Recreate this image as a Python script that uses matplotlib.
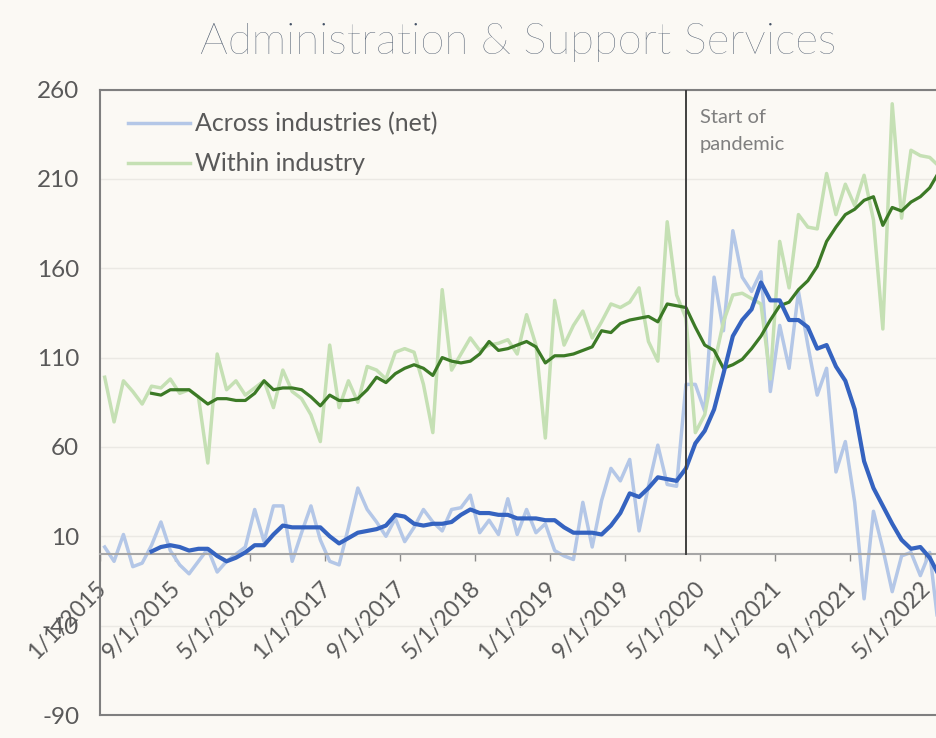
import numpy as np
import pandas as pd
import matplotlib.pyplot as plt
from matplotlib.transforms import ScaledTranslation

# monthly data, Jan 2015 onwards
months = pd.date_range('2015-01-01', periods=90, freq='MS')

across_raw = [4, -4, 11, -7, -5, 5, 18, 2, -6, -11,
              -4, 3, -10, -4, 0, 4, 25, 7, 27, 27,
              -4, 12, 27, 8, -4, -6, 15, 37, 25, 18,
              10, 20, 7, 15, 25, 18, 13, 25, 26, 33,
              12, 19, 11, 31, 11, 25, 12, 17, 2, -1,
              -3, 29, 4, 30, 48, 41, 53, 13, 38, 61,
              39, 38, 95, 95, 80, 155, 125, 181, 155, 147,
              158, 91, 128, 104, 147, 117, 89, 104, 46, 63,
              29, -25, 24, 3, -21, -1, 1, -12, 1, -44]

within_raw = [99, 74, 97, 91, 84, 94, 93, 98, 90, 92,
              88, 51, 112, 92, 97, 89, 93, 97, 82, 103,
              91, 87, 78, 63, 117, 82, 97, 85, 105, 103,
              98, 113, 115, 113, 95, 68, 148, 103, 112, 121,
              114, 117, 118, 120, 112, 134, 117, 65, 142, 117,
              128, 136, 121, 130, 140, 138, 141, 149, 119, 108,
              186, 145, 132, 68, 78, 106, 130, 145, 146, 143,
              140, 98, 175, 149, 190, 183, 182, 213, 190, 207,
              195, 212, 187, 126, 252, 188, 226, 223, 222, 217]

nan = np.nan
across_avg = [nan, nan, nan, nan, nan, 1.5, 4, 5, 4, 2,
              3, 3, -1, -4, -2, 1, 5, 5, 11, 16,
              15, 15, 15, 15, 10, 6, 9, 12, 13, 14,
              16, 22, 21, 17, 16, 17, 17, 18, 22, 25,
              23, 23, 22, 22, 20, 20, 20, 19, 19, 15,
              12, 12, 12, 11, 16, 23, 34, 32, 37, 43,
              42, 41, 48, 62, 69, 81, 101, 122, 131, 137,
              152, 142, 142, 131, 131, 127, 115, 117, 105, 97,
              81, 52, 37, 27, 17, 8, 3, 4, -2, -12]

within_avg = [nan, nan, nan, nan, nan, 90, 89, 92, 92, 92,
              88, 84, 87, 87, 86, 86, 90, 97, 92, 93,
              93, 92, 88, 83, 89, 86, 86, 87, 92, 99,
              96, 101, 104, 106, 104, 100, 110, 108, 107, 108,
              112, 119, 114, 115, 117, 119, 116, 107, 111, 111,
              112, 114, 116, 125, 124, 129, 131, 132, 133, 130,
              140, 139, 138, 127, 117, 114, 104, 106, 109, 115,
              122, 131, 139, 141, 148, 153, 161, 175, 183, 190,
              193, 198, 200, 184, 194, 192, 197, 200, 205, 214]

pandemic = 62  # 3/1/2020

bg = '#fbf9f4'
txt = '#595959'
plt.rcParams['font.family'] = ['Lato', 'DejaVu Sans']
plt.rcParams['axes.unicode_minus'] = False

fig = plt.figure(figsize=(9.36, 7.38), dpi=100, facecolor=bg)
ax = fig.add_axes([100 / 936, 23 / 738, 836 / 936, 625.5 / 738], facecolor=bg)

# spines first: moving a spine resets the ticks
ax.spines['bottom'].set_position(('data', 0))
ax.spines['bottom'].set_color('#a6a6a6')
ax.spines['bottom'].set_linewidth(1.5)
ax.spines['right'].set_visible(False)
for s in ['left', 'top']:
    ax.spines[s].set_color('#7f7f7f')
    ax.spines[s].set_linewidth(1.5)
ax.plot([0, 1], [0, 0], transform=ax.transAxes, color='#7f7f7f', lw=1.5, clip_on=False)

x = np.arange(len(months)) + 0.5
ax.plot(x, across_raw, color='#b4c7e7', lw=2.5, label='Across industries (net)', zorder=2)
ax.plot(x, within_raw, color='#c5e0b4', lw=2.5, label='Within industry', zorder=2)
ax.plot(x, within_avg, color='#3c7a26', lw=2.3, zorder=3)
ax.plot(x, across_avg, color='#3563c0', lw=3.0, zorder=4)

ax.plot([pandemic + 0.5] * 2, [0, 260], color='#404040', lw=1.4, zorder=5)
ax.text(pandemic + 2.0, 249, 'Start of\npandemic', color='#7f7f7f', fontsize=14.5,
        va='top', ha='left', linespacing=1.72)

ax.set_xlim(0, 89.17)
ax.set_ylim(-90, 260)
ax.set_yticks(np.arange(-90, 261, 50))
ax.grid(axis='y', color='#ebe9e4', lw=1)
ax.set_axisbelow(True)

ticks = np.arange(0, len(months), 8)
ax.set_xticks(ticks)
ax.tick_params(axis='x', colors='#8c8c8c', length=5, width=1, pad=12,
               labelcolor=txt, labelsize=16.5)
ax.tick_params(axis='y', length=0, pad=15, labelcolor=txt, labelsize=17.5)
ax.set_xticklabels([f'{d.month}/{d.day}/{d.year}' for d in months[ticks]],
                   rotation=45, ha='right', va='top')
shift = ScaledTranslation(0.1, 0, fig.dpi_scale_trans)
for lab in ax.get_xticklabels():
    lab.set_transform(lab.get_transform() + shift)

ax.legend(loc='upper left', bbox_to_anchor=(0.006, 1.0), frameon=False, fontsize=18,
          handlelength=2.5, handletextpad=0.2, labelspacing=0.68, labelcolor=txt)

fig.text(0.553, 0.942, 'Administration & Support Services', ha='center', va='center',
         fontsize=31.5, fontweight='light', color='#465468')

fig.savefig('out.png', dpi=100, facecolor=bg)
